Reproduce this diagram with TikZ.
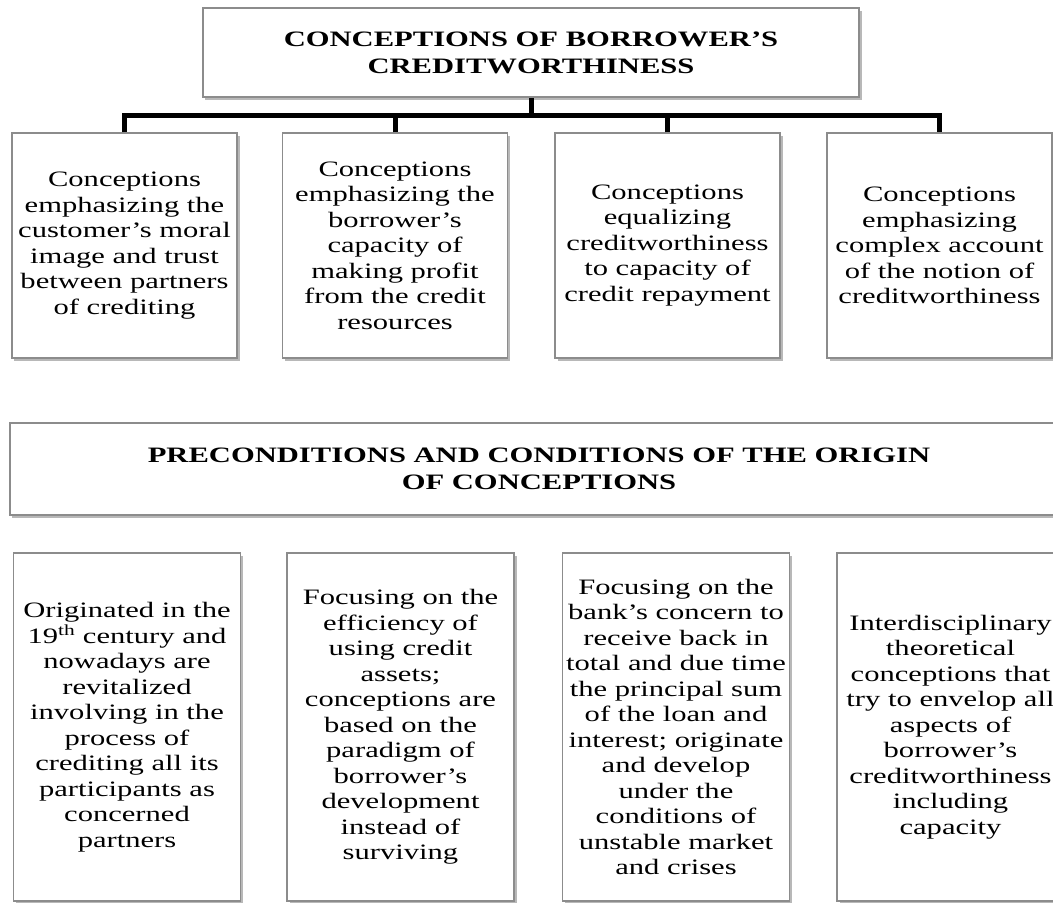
\documentclass[tikz,border=0pt]{standalone}
\usepackage{fontspec}
\setmainfont{Liberation Serif}[FakeStretch=1.39]
\usetikzlibrary{shadows}
\begin{document}
\begin{tikzpicture}[x=1bp,y=-1bp,
  box/.style={draw=black!45, line width=1.5bp, fill=white,
    drop shadow={shadow xshift=2.5bp, shadow yshift=-3bp, fill=black, opacity=0.28},
    align=center, inner sep=0pt, font=\fontsize{22bp}{25.5bp}\selectfont},
  head/.style={box, font=\fontsize{22bp}{27bp}\selectfont\bfseries},
  topbox/.style={box, minimum width=225bp, minimum height=225bp},
  lowbox/.style={box, minimum width=227bp, minimum height=348bp},
  conn/.style={line width=5bp, draw=black}]
\clip (0,0) rectangle (1053,903);
\fill[white] (0,0) rectangle (1053,903);

\node[head, minimum width=656bp, minimum height=89bp] (top) at (531,52.5)
  {CONCEPTIONS OF BORROWER’S\\CREDITWORTHINESS};

\node[topbox] (c1) at (124.5,245.5) {Conceptions\\emphasizing the\\customer’s moral\\image and trust\\between partners\\of crediting};
\node[topbox] (c2) at (395,245.5) {Conceptions\\emphasizing the\\borrower’s\\capacity of\\making profit\\from the credit\\resources};
\node[topbox] (c3) at (667.5,245.5) {Conceptions\\equalizing\\creditworthiness\\to capacity of\\credit repayment};
\node[topbox] (c4) at (939.5,245.5) {Conceptions\\emphasizing\\complex account\\of the notion of\\creditworthiness};

\coordinate (bar) at (531,115);
\draw[conn] (top.south) -- (top.south |- bar);
\draw[conn] (c1.north) |- (bar) -| (c4.north);
\draw[conn] (c2.north) -- (c2.north |- bar);
\draw[conn] (c3.north) -- (c3.north |- bar);

\node[head, minimum width=1058bp, minimum height=92bp] (mid) at (539,469)
  {PRECONDITIONS AND CONDITIONS OF THE ORIGIN\\OF CONCEPTIONS};

\node[lowbox] (p1) at (127,727) {Originated in the\\19\textsuperscript{th} century and\\nowadays are\\revitalized\\involving in the\\process of\\crediting all its\\participants as\\concerned\\partners};
\node[lowbox] (p2) at (400.5,727) {Focusing on the\\efficiency of\\using credit\\assets;\\conceptions are\\based on the\\paradigm of\\borrower’s\\development\\instead of\\surviving};
\node[lowbox] (p3) at (676,727) {Focusing on the\\bank’s concern to\\receive back in\\total and due time\\the principal sum\\of the loan and\\interest; originate\\and develop\\under the\\conditions of\\unstable market\\and crises};
\node[lowbox] (p4) at (950.5,727) {Interdisciplinary\\theoretical\\conceptions that\\try to envelop all\\aspects of\\borrower’s\\creditworthiness\\including\\capacity};
\end{tikzpicture}
\end{document}
